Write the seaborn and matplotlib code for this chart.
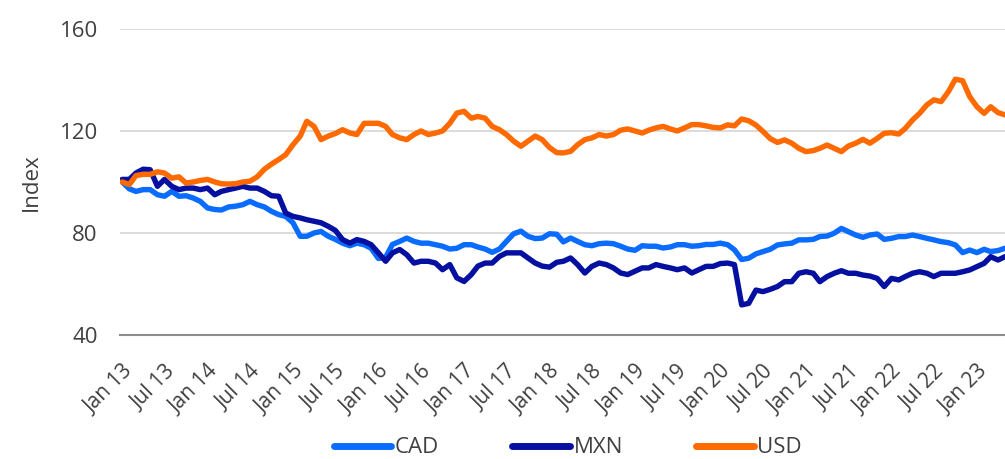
import pandas as pd
import numpy as np
import matplotlib.pyplot as plt
import matplotlib.dates as mdates
from matplotlib.lines import Line2D
import seaborn as sns

# monthly index values, Jan 2013 .. May 2023
start = '2013-01-01'
usd = [100, 99, 102.5, 103, 103, 104, 103.5, 101.5, 102, 99.6,
       100, 100.6, 101, 100, 99.3, 99.2, 99.3, 100, 100.3, 102,
       105, 107, 108.8, 110.7, 114.6, 118, 123.8, 121.8, 116.6, 118,
       119, 120.5, 119.2, 118.6, 123, 123, 123, 121.8, 118.6, 117.3,
       116.6, 118.6, 120, 118.6, 119.2, 120, 123, 127, 127.7, 125,
       125.7, 125, 121.8, 120.5, 118.6, 116, 114, 116, 118, 116.6,
       113.5, 111.5, 111.4, 112, 114.6, 116.6, 117.3, 118.6, 118, 118.6,
       120.3, 120.8, 120, 119.2, 120.3, 121.2, 121.8, 120.8, 120, 121.2,
       122.5, 122.5, 122, 121.4, 121.2, 122.4, 122, 124.7, 124, 122.3,
       119.8, 117, 115.5, 116.5, 115.2, 113.2, 111.9, 112.3, 113.2, 114.5,
       113.2, 111.9, 114.1, 115.2, 116.7, 115.2, 117.1, 119.1, 119.3, 118.8,
       121, 124.3, 126.9, 130.2, 132.2, 131.5, 135.4, 140.3, 139.7, 133.5,
       129.5, 126.9, 129.5, 127.2, 126.3]
cad = [100, 97.3, 96.3, 97, 97, 95, 94.4, 96.3, 94.4, 94.6,
       93.7, 92.4, 89.8, 89.2, 89, 90.2, 90.5, 91.1, 92.4, 91.1,
       90.2, 88.5, 87.2, 86.5, 84, 78.7, 78.7, 80, 80.6, 78.7,
       77.5, 76, 75, 76, 75.4, 74, 70, 70.5, 75.5, 76.7,
       78, 76.7, 76, 76, 75.4, 74.8, 73.7, 74, 75.4, 75.4,
       74.5, 73.7, 72.4, 73.7, 76.7, 79.7, 80.7, 78.7, 77.8, 78,
       79.7, 79.5, 76.5, 78, 76.7, 75.4, 75, 75.8, 76, 75.8,
       74.8, 73.7, 73.2, 75, 74.8, 74.8, 74.1, 74.5, 75.4, 75.4,
       74.8, 75, 75.5, 75.5, 76, 75.4, 73.4, 69.6, 70.1, 71.8,
       72.7, 73.6, 75.3, 75.7, 76, 77.3, 77.3, 77.5, 78.6, 78.8,
       79.9, 81.8, 80.5, 79.2, 78.3, 79.2, 79.6, 77.5, 77.9, 78.6,
       78.6, 79.2, 78.6, 77.9, 77.3, 76.6, 76.2, 75.3, 72.3, 73.3,
       72.3, 73.6, 72.7, 73.1, 74]
mxn = [101, 101, 103.5, 105, 104.8, 98.3, 101, 98.3, 97, 97.6,
       97.6, 97, 97.6, 95, 96.3, 97, 97.6, 98.3, 97.6, 97.6,
       96.3, 94.6, 94.4, 87.8, 86.5, 85.9, 85.2, 84.6, 84, 82.6,
       81, 77.4, 76, 77.4, 76.7, 75.4, 72.2, 68.9, 72.2, 73.5,
       71.5, 68.2, 68.9, 68.9, 68.2, 65.6, 67.6, 62.4, 61, 63.7,
       67, 68.2, 68.2, 70.8, 72.2, 72.2, 72.2, 70.2, 68.2, 67,
       66.6, 68.5, 68.9, 70.2, 67.6, 64.3, 66.9, 68.2, 67.6, 66.3,
       64.3, 63.7, 65, 66.3, 66.3, 67.6, 66.9, 66.3, 65.6, 66.3,
       64.3, 65.6, 66.9, 66.9, 68, 68.2, 67.6, 51.8, 52.4, 57.6,
       57, 57.9, 59, 60.9, 60.9, 64.2, 64.8, 64.2, 60.9, 62.9,
       64.2, 65.2, 64.2, 64.2, 63.5, 63.1, 62.2, 59, 62.2, 61.6,
       62.9, 64.2, 64.8, 64.2, 62.9, 64.2, 64.2, 64.2, 64.8, 65.5,
       66.8, 68.1, 70.7, 69.4, 70.7]

series = ['CAD', 'MXN', 'USD']
colors = {'CAD': '#0a6cff', 'MXN': '#0510a0', 'USD': '#ff6a00'}

dates = pd.date_range(start, periods=len(usd), freq='MS')
df = pd.concat([
    pd.DataFrame({'Date': dates, 'Index': vals, 'Currency': name})
    for name, vals in zip(series, [cad, mxn, usd])
])

sns.set_style('white')
plt.rcParams['font.family'] = ['Open Sans', 'DejaVu Sans']

fig = plt.figure(figsize=(10.05, 4.59), dpi=100)
ax = fig.add_axes([0.1194, 0.2702, 0.8806, 0.6667])

sns.lineplot(data=df, x='Date', y='Index', hue='Currency', hue_order=series,
             palette=colors, linewidth=3.9, legend=False, ax=ax)

ax.set_ylim(40, 160)
ax.set_yticks([40, 80, 120, 160])
ax.set_xlim(pd.Timestamp('2012-12-23'), dates[-1])
ax.xaxis.set_major_locator(mdates.MonthLocator(bymonth=[1, 7]))
ax.xaxis.set_major_formatter(mdates.DateFormatter('%b %y'))

ax.grid(axis='y', color='#d9d9d9', linewidth=1.3)
ax.grid(axis='x', visible=False)
ax.set_axisbelow(True)
for s in ['top', 'right', 'left']:
    ax.spines[s].set_visible(False)
ax.spines['bottom'].set_color('#8c8c8c')
ax.spines['bottom'].set_linewidth(1.5)
ax.tick_params(length=0, labelcolor='#404040')
ax.tick_params(axis='y', pad=16, labelsize=16)
ax.tick_params(axis='x', pad=19, labelsize=15)
plt.setp(ax.get_xticklabels(), rotation=45, ha='right', rotation_mode='anchor')

ax.set_xlabel('')
ax.set_ylabel('Index', fontsize=16, color='#404040', labelpad=13)

handles = [Line2D([], [], color=colors[s], linewidth=5) for s in series]
fig.legend(handles, series, loc='center', bbox_to_anchor=(0.565, 0.024), ncol=3,
           frameon=False, fontsize=16, labelcolor='#404040', handlelength=2.6,
           handletextpad=0.15, columnspacing=3.3)

fig.savefig('out.png', dpi=100)
